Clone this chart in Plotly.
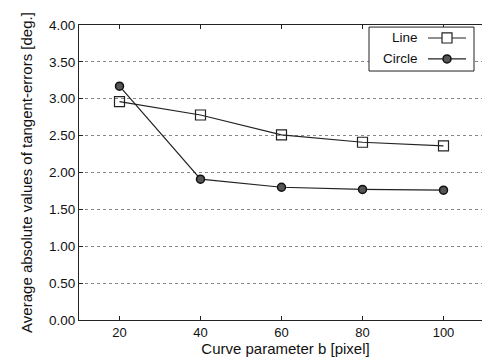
import plotly.graph_objects as go

b_values = [20, 40, 60, 80, 100]
line_errors = [2.96, 2.78, 2.51, 2.41, 2.36]
circle_errors = [3.17, 1.91, 1.80, 1.77, 1.76]
series_names = ["Line", "Circle"]
y_tick_vals = [0, 0.5, 1, 1.5, 2, 2.5, 3, 3.5, 4]
y_tick_text = ["%.2f" % v for v in y_tick_vals]

FONT = "Liberation Sans, Arial, sans-serif"

# plot area: x from 79px to 492px (right frame falls just outside the 482px window)
W, L, R = 492, 79, 0
PW = W - L - R

def px(x):
    return (x - L) / PW

fig = go.Figure()
fig.add_trace(go.Scatter(
    x=b_values, y=line_errors, mode="lines+markers", name=series_names[0],
    line=dict(color="#222", width=1.2),
    marker=dict(symbol="square-open", size=10, color="#222", line=dict(width=1.2)),
    showlegend=False))
fig.add_trace(go.Scatter(
    x=b_values, y=circle_errors, mode="lines+markers", name=series_names[1],
    line=dict(color="#222", width=1.2),
    marker=dict(symbol="circle", size=8, color="#555", line=dict(color="#111", width=1.5)),
    showlegend=False))

# Custom legend (text left, glyph right)
shapes = [dict(type="rect", xref="paper", yref="paper", x0=px(369), x1=px(474), y0=0.844, y1=0.993,
               line=dict(color="#222", width=1), fillcolor="white", layer="above")]
legend_rows = [(0.956, "square"), (0.885, "circle")]
annotations = []
for (yy, kind), name in zip(legend_rows, series_names):
    annotations.append(dict(text=name, xref="paper", yref="paper", x=px(420), y=yy,
                            xanchor="right", yanchor="middle", showarrow=False,
                            font=dict(family=FONT, size=13.5, color="#111")))
    shapes.append(dict(type="line", xref="paper", yref="paper", x0=px(428), x1=px(466),
                       y0=yy, y1=yy, line=dict(color="#222", width=1.2), layer="above"))
    cx = 447
    if kind == "square":
        shapes.append(dict(type="rect", xref="paper", yref="paper",
                           x0=px(cx - 5), x1=px(cx + 5), y0=yy - 0.017, y1=yy + 0.017,
                           line=dict(color="#222", width=1.2), fillcolor="white", layer="above"))
    else:
        shapes.append(dict(type="circle", xref="paper", yref="paper",
                           x0=px(cx - 4), x1=px(cx + 4), y0=yy - 0.0136, y1=yy + 0.0136,
                           line=dict(color="#111", width=1.5), fillcolor="#555", layer="above"))

fig.update_layout(
    width=W, height=364,
    margin=dict(l=L, r=R, t=25, b=44),
    paper_bgcolor="white", plot_bgcolor="white",
    font=dict(family=FONT, size=13, color="#111"),
    shapes=shapes, annotations=annotations,
    showlegend=False,
)
fig.update_xaxes(
    range=[10, 10 + PW / 4.05], tickvals=b_values, ticks="inside", ticklen=4,
    tickcolor="#222", showline=True, linecolor="#222", linewidth=1, mirror="ticks",
    showgrid=False, zeroline=False, tickfont=dict(size=13),
    title=dict(text="Curve parameter b [pixel]", font=dict(size=15), standoff=3),
)
fig.update_yaxes(
    range=[0, 4], tickvals=y_tick_vals, ticktext=y_tick_text, ticks="inside", ticklen=4,
    tickcolor="#222", showline=True, linecolor="#222", linewidth=1, mirror="ticks",
    showgrid=True, gridcolor="#888", griddash="dot", gridwidth=1, zeroline=False,
    tickfont=dict(size=13.5),
    title=dict(text="Average absolute values of tangent-errors [deg.]", font=dict(size=15), standoff=12),
)

fig.write_html(
    "out.html", config={"displayModeBar": False},
    post_script=("document.documentElement.style.overflow='hidden';"
                 "document.body.style.margin='0';document.body.style.overflow='hidden';"))
